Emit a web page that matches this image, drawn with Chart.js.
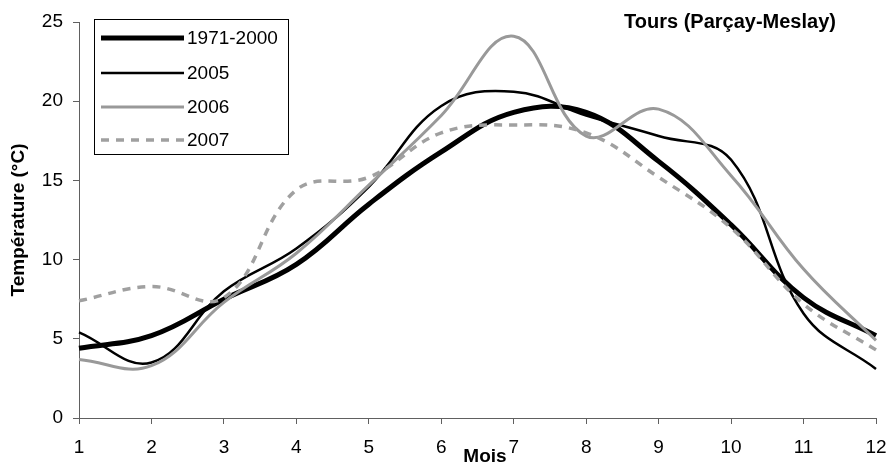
<!DOCTYPE html>
<html>
<head>
<meta charset="utf-8">
<script src="https://cdn.jsdelivr.net/npm/chart.js@4/dist/chart.umd.min.js"></script>
<style>
  html, body { margin: 0; padding: 0; background: #fff; }
  #wrap { width: 890px; height: 465px; position: relative; }
</style>
</head>
<body>
<div id="wrap"><canvas id="chart"></canvas></div>
<script>
// mean monthly temperatures, Tours (Parçay-Meslay)
const months = [1, 2, 3, 4, 5, 6, 7, 8, 9, 10, 11, 12]
const normale = [4.4, 5.2, 7.5, 9.7, 13.5, 16.8, 19.3, 19.3, 16.2, 12.2, 7.6, 5.2]
const an2005 = [5.4, 3.5, 8.0, 10.7, 14.6, 19.7, 20.6, 19.1, 17.8, 16.3, 6.6, 3.1]
const an2006 = [3.7, 3.3, 7.3, 10.4, 14.7, 19.1, 24.1, 17.8, 19.5, 15.3, 9.4, 4.9]
const an2007 = [7.4, 8.3, 7.6, 14.4, 15.2, 18.0, 18.5, 18.0, 15.2, 12.0, 7.2, 4.3]
const seriesNames = ["1971-2000", "2005", "2006", "2007"]
const yTicks = [0, 5, 10, 15, 20, 25]

const FONT = "'Liberation Sans', Arial, sans-serif"

// legend box + free texts, drawn like the Excel original
const extras = {
  id: "extras",
  afterDraw(chart) {
    const ctx = chart.ctx
    ctx.save()

    // legend
    ctx.fillStyle = "#fff"
    ctx.fillRect(94.5, 19.5, 194, 135)
    ctx.strokeStyle = "#000"
    ctx.lineWidth = 1
    ctx.setLineDash([])
    ctx.strokeRect(94.5, 19.5, 194, 135)
    const rows = [38, 73, 107, 140]
    chart.data.datasets.forEach((ds, i) => {
      const y = rows[i]
      ctx.beginPath()
      ctx.strokeStyle = ds.borderColor
      ctx.lineWidth = ds.borderWidth
      ctx.setLineDash(ds.borderDash || [])
      ctx.lineCap = "butt"
      ctx.moveTo(101, y)
      ctx.lineTo(184, y)
      ctx.stroke()
      ctx.setLineDash([])
      ctx.fillStyle = "#000"
      ctx.font = "19px " + FONT
      ctx.textAlign = "left"
      ctx.textBaseline = "middle"
      ctx.fillText(ds.label, 187, y + 1)
    })

    // title
    ctx.fillStyle = "#000"
    ctx.font = "bold 20px " + FONT
    ctx.textAlign = "left"
    ctx.textBaseline = "alphabetic"
    ctx.fillText("Tours (Parçay-Meslay)", 624, 28)

    // x axis title
    ctx.font = "bold 19px " + FONT
    ctx.textAlign = "center"
    ctx.fillText("Mois", 485, 462)

    // y axis title
    ctx.translate(19, 220)
    ctx.rotate(-Math.PI / 2)
    ctx.textBaseline = "middle"
    ctx.fillText("Température (°C)", 0, 0)

    ctx.restore()
  }
}

const line = (label, data, color, width, dash, order) => ({
  label,
  data,
  borderColor: color,
  backgroundColor: color,
  borderWidth: width,
  borderDash: dash,
  pointRadius: 0,
  tension: 0.4,
  fill: false,
  order
})

new Chart(document.getElementById("chart"), {
  type: "line",
  data: {
    labels: months,
    datasets: [
      line(seriesNames[0], normale, "#000000", 5, [], 3),
      line(seriesNames[1], an2005, "#000000", 2.5, [], 2),
      line(seriesNames[2], an2006, "#999999", 3, [], 1),
      line(seriesNames[3], an2007, "#a0a0a0", 3.5, [8, 7], 0)
    ]
  },
  options: {
    responsive: true,
    maintainAspectRatio: false,
    animation: false,
    layout: { padding: { left: 0, right: 14, top: 22, bottom: 0 } },
    plugins: {
      legend: { display: false },
      tooltip: { enabled: false },
      title: { display: false }
    },
    scales: {
      x: {
        offset: false,
        grid: { drawOnChartArea: false, drawTicks: true, tickLength: 6, color: "#606060" },
        border: { color: "#606060", width: 1 },
        ticks: { color: "#000", font: { family: FONT, size: 19 }, padding: 12, maxRotation: 0, autoSkip: false },
        afterFit: (scale) => {
          scale.height = 47
          scale.paddingLeft = 0
          scale.paddingRight = 0
        }
      },
      y: {
        min: 0,
        max: 25,
        afterBuildTicks: (scale) => { scale.ticks = yTicks.map(v => ({ value: v })) },
        grid: { drawOnChartArea: false, drawTicks: true, tickLength: 6, color: "#606060" },
        border: { color: "#606060", width: 1 },
        ticks: { color: "#000", font: { family: FONT, size: 19 }, padding: 10 },
        afterFit: (scale) => {
          scale.width = 79
          scale.paddingTop = 0
          scale.paddingBottom = 0
        }
      }
    }
  },
  plugins: [extras]
})
</script>
</body>
</html>
